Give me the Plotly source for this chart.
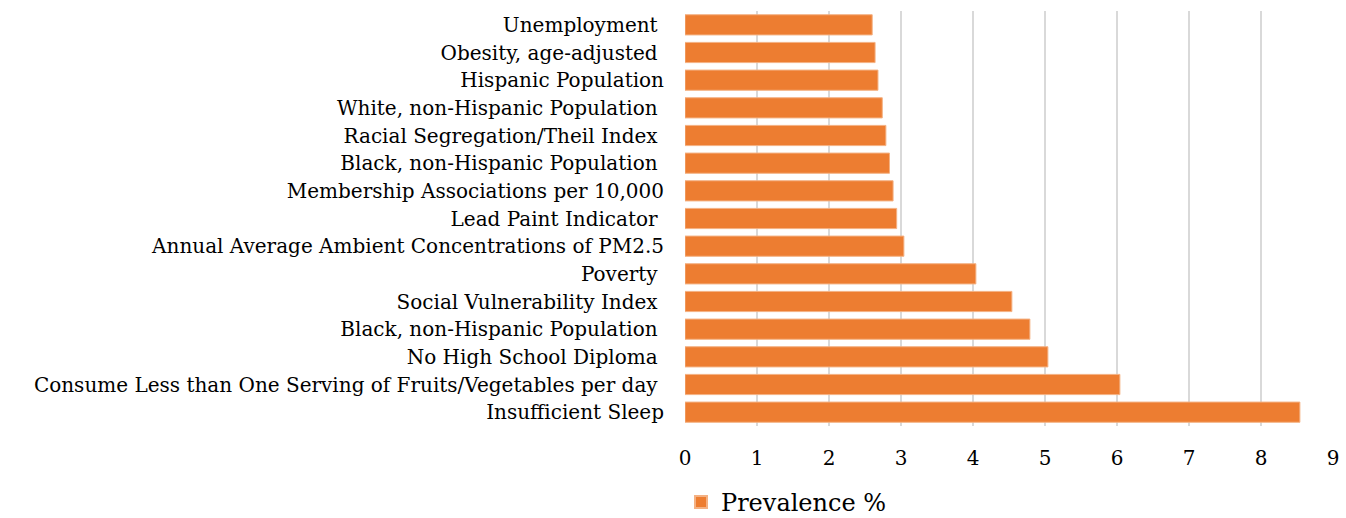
import plotly.graph_objects as go

categories = [
    "Unemployment ",
    "Obesity, age-adjusted ",
    "Hispanic Population",
    "White, non-Hispanic Population ",
    "Racial Segregation/Theil Index ",
    "Black, non-Hispanic Population ",
    "Membership Associations per 10,000",
    "Lead Paint Indicator ",
    "Annual Average Ambient Concentrations of PM2.5",
    "Poverty ",
    "Social Vulnerability Index ",
    "Black, non-Hispanic Population ",
    "No High School Diploma ",
    "Consume Less than One Serving of Fruits/Vegetables per day ",
    "Insufficient Sleep",
]
values = [2.60, 2.64, 2.68, 2.74, 2.79, 2.84, 2.89, 2.94, 3.04,
          4.04, 4.54, 4.79, 5.04, 6.04, 8.54]
series_name = "Prevalence %"
x_ticks = list(range(0, 10))

# unique y keys because one label repeats
ykeys = [f"c{i}" for i in range(len(categories))]

FONT = "DejaVu Serif"

fig = go.Figure(go.Bar(
    x=values, y=ykeys, orientation="h", name=series_name,
    marker=dict(color="#ED7D31", line=dict(color="#F4B183", width=1)),
    showlegend=True,
))
fig.update_layout(
    width=1346, height=518,
    margin=dict(l=685, r=13, t=11, b=92, autoexpand=False),
    plot_bgcolor="white", paper_bgcolor="white",
    bargap=0.27,
    font=dict(family=FONT, size=20, color="#000000"),
    xaxis=dict(range=[0, 9], tickvals=x_ticks, ticktext=[str(t) for t in x_ticks],
               showgrid=True, gridcolor="#D9D9D9", gridwidth=2,
               zeroline=False, showline=False, ticks="",
               ticklabelstandoff=18, tickfont=dict(size=20, family=FONT)),
    yaxis=dict(categoryorder="array", categoryarray=ykeys, autorange="reversed",
               tickvals=ykeys, ticktext=categories,
               showgrid=False, zeroline=False, showline=False, ticks="",
               ticklabelstandoff=20, tickfont=dict(size=20, family=FONT)),
    legend=dict(orientation="h", x=681 / 1346, xanchor="left", xref="container",
                y=0.03, yref="container", yanchor="middle",
                font=dict(size=24, family=FONT), itemsizing="constant"),
)
fig.write_html("out.html")
